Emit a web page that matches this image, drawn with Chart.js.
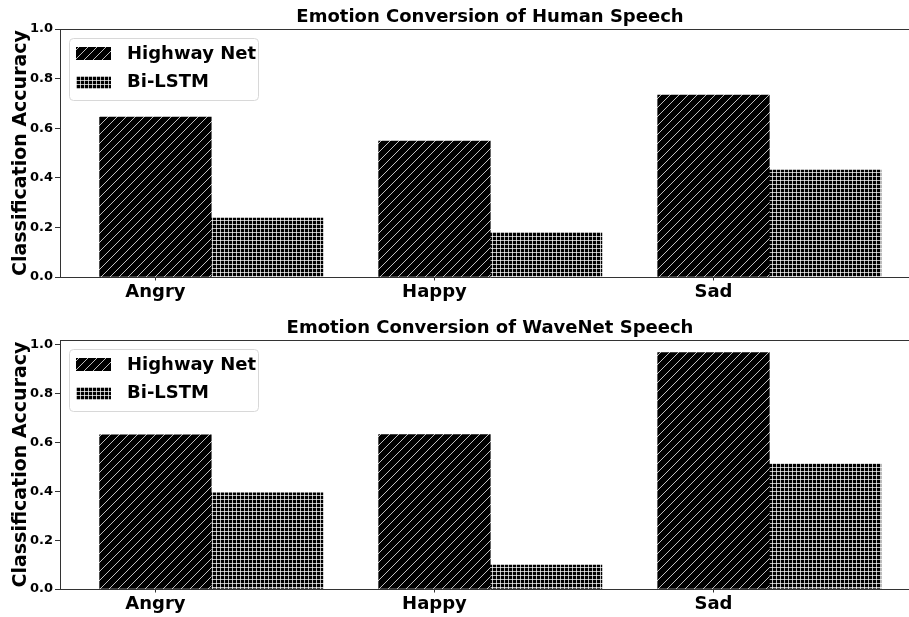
<!DOCTYPE html>
<html>
<head>
<meta charset="utf-8">
<script src="https://cdn.jsdelivr.net/npm/chart.js@4.4.1/dist/chart.umd.min.js"></script>
<style>
  html, body { margin: 0; padding: 0; background: #fff; }
  body { width: 909px; height: 617px; overflow: hidden; position: relative; }
  .panel { position: absolute; left: 0; width: 909px; overflow: hidden; }
  canvas { display: block; }
</style>
</head>
<body>
<div class="panel" style="top:0;height:309px"><canvas id="chartHuman" width="980" height="309"></canvas></div>
<div class="panel" style="top:311px;height:306px"><canvas id="chartWave" width="980" height="310"></canvas></div>
<script>
const categories = ['Angry', 'Happy', 'Sad'];
const seriesNames = ['Highway Net', 'Bi-LSTM'];
const humanHighway = [0.645, 0.548, 0.734];
const humanBiLstm = [0.238, 0.180, 0.431];
const wavenetHighway = [0.632, 0.633, 0.968];
const wavenetBiLstm = [0.394, 0.098, 0.513];
const yTicks = [0.0, 0.2, 0.4, 0.6, 0.8, 1.0];

const FONT = "'DejaVu Sans', sans-serif";
const barWidth = 0.4;

// hatch fills like matplotlib '//' and '++'
function diagonalHatch() {
  const c = document.createElement('canvas');
  c.width = 9; c.height = 9;
  const g = c.getContext('2d');
  g.fillStyle = '#000';
  g.fillRect(0, 0, 9, 9);
  g.strokeStyle = 'rgba(255,255,255,0.75)';
  g.lineWidth = 1;
  g.beginPath();
  g.moveTo(-1, 10); g.lineTo(10, -1);
  g.moveTo(-1, 1); g.lineTo(1, -1);
  g.moveTo(8, 10); g.lineTo(10, 8);
  g.stroke();
  return g.createPattern(c, 'repeat');
}

function gridHatch() {
  const c = document.createElement('canvas');
  c.width = 4; c.height = 4;
  const g = c.getContext('2d');
  g.fillStyle = '#000';
  g.fillRect(0, 0, 4, 4);
  g.fillStyle = 'rgba(255,255,255,0.72)';
  g.fillRect(0, 0, 4, 1);
  g.fillRect(0, 0, 1, 4);
  return g.createPattern(c, 'repeat');
}

const diag = diagonalHatch();
const grid = gridHatch();

const framePlugin = {
  id: 'frame',
  afterDraw(chart) {
    const {ctx, chartArea: a} = chart;
    ctx.save();
    ctx.strokeStyle = '#333';
    ctx.lineWidth = 1;
    ctx.beginPath();
    ctx.moveTo(a.left, Math.round(a.top) + 0.5);
    ctx.lineTo(a.right, Math.round(a.top) + 0.5);
    ctx.lineTo(a.right, a.bottom);
    ctx.stroke();
    ctx.restore();
  }
};

const boxLegend = {
  id: 'boxLegend',
  afterDraw(chart) {
    const {ctx, chartArea: a} = chart;
    const x = a.left + 9, y = a.top + 9, w = 189, h = 62;
    ctx.save();
    ctx.fillStyle = 'rgba(255,255,255,0.8)';
    ctx.strokeStyle = '#d8d8d8';
    ctx.lineWidth = 1;
    ctx.beginPath();
    ctx.roundRect(Math.round(x) + 0.5, Math.round(y) + 0.5, w, h, 4);
    ctx.fill();
    ctx.stroke();
    ctx.font = 'bold 18px ' + FONT;
    ctx.textBaseline = 'middle';
    chart.data.datasets.forEach((ds, i) => {
      const cy = y + 15.5 + i * 28.5;
      ctx.fillStyle = ds.backgroundColor;
      ctx.fillRect(x + 7, Math.round(cy - 6.5), 35, 13);
      ctx.fillStyle = '#000';
      ctx.fillText(ds.label, x + 58, cy + 0.5);
    });
    ctx.restore();
  }
};

function makeChart(id, title, highway, bilstm, yMax) {
  const ctx = document.getElementById(id).getContext('2d');
  return new Chart(ctx, {
    type: 'bar',
    data: {
      datasets: [
        {
          label: seriesNames[0],
          data: highway.map((v, i) => ({x: i, y: v})),
          backgroundColor: diag,
          borderWidth: 0,
          grouped: false,
          barPercentage: 1,
          categoryPercentage: 1
        },
        {
          label: seriesNames[1],
          data: bilstm.map((v, i) => ({x: i + barWidth, y: v})),
          backgroundColor: grid,
          borderWidth: 0,
          grouped: false,
          barPercentage: 1,
          categoryPercentage: 1
        }
      ]
    },
    options: {
      responsive: false,
      animation: false,
      devicePixelRatio: 1,
      layout: {padding: {left: 0, right: 60, top: 0, bottom: 0}},
      plugins: {
        legend: {display: false},
        tooltip: {enabled: false},
        title: {
          display: true,
          fullSize: false,
          text: title,
          color: '#000',
          font: {family: FONT, size: 18, weight: 'bold', lineHeight: 1.2},
          padding: {top: 7, bottom: 0.4}
        }
      },
      scales: {
        x: {
          type: 'linear',
          offset: false,
          min: -0.342,
          max: 2.74,
          afterBuildTicks: s => { s.ticks = categories.map((c, i) => ({value: i})); },
          afterFit: s => { s.height = 32; },
          grid: {display: true, offset: false, drawOnChartArea: false, drawTicks: true, tickLength: 3.5, color: '#333', tickColor: '#333'},
          border: {display: true, color: '#333', width: 1},
          ticks: {
            autoSkip: false,
            maxRotation: 0,
            padding: 3,
            color: '#000',
            font: {family: FONT, size: 18, weight: 'bold', lineHeight: 1},
            callback: v => categories[v]
          }
        },
        y: {
          min: 0,
          max: yMax,
          afterBuildTicks: s => { s.ticks = yTicks.map(v => ({value: v})); },
          afterFit: s => { s.width = 60; },
          grid: {display: true, drawOnChartArea: false, drawTicks: true, tickLength: 5, color: '#333', tickColor: '#333'},
          border: {display: true, color: '#333', width: 1},
          ticks: {
            padding: 2,
            color: '#000',
            font: {family: FONT, size: 13, weight: 'bold'},
            callback: v => v.toFixed(1)
          },
          title: {
            display: true,
            text: 'Classification Accuracy',
            color: '#000',
            font: {family: FONT, size: 19, weight: 'bold', lineHeight: 1.2},
            padding: {top: 10, bottom: 0}
          }
        }
      }
    },
    plugins: [framePlugin, boxLegend]
  });
}

makeChart('chartHuman', 'Emotion Conversion of Human Speech', humanHighway, humanBiLstm, 1.0);
makeChart('chartWave', 'Emotion Conversion of WaveNet Speech', wavenetHighway, wavenetBiLstm, 1.02);
</script>
</body>
</html>
